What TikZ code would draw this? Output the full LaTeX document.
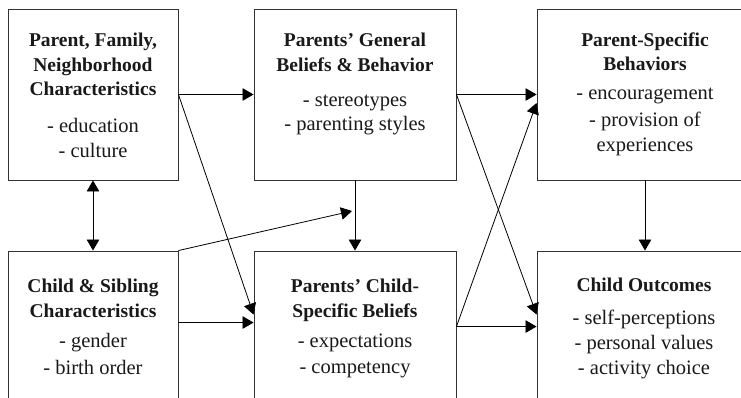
\documentclass[tikz,border=0pt]{standalone}
\usepackage{fontspec}
\setmainfont{Liberation Serif}
\usetikzlibrary{arrows.meta}

\tikzset{
  box/.style={draw=black!80, line width=0.9pt, rectangle, inner sep=0pt},
  ttl/.style={anchor=base, inner sep=0pt, font=\bfseries\fontsize{19.5}{25}\selectfont, text=black!90},
  itm/.style={anchor=base, inner sep=0pt, font=\fontsize{20.5}{25}\selectfont, text=black!90},
  arr/.style={draw=black, line width=0.8pt, -{Triangle[length=11pt,width=12.5pt]}},
  arrboth/.style={draw=black, line width=0.8pt, {Triangle[length=11pt,width=12.5pt]}-{Triangle[length=11pt,width=12.5pt]}},
}

\begin{document}
\begin{tikzpicture}[x=1pt, y=-1pt]
  \clip (0,0) rectangle (741,398);
  \fill[white] (0,0) rectangle (741,398);

  % boxes (the lower row and the right column run past the page edge)
  \node[box, minimum width=170pt, minimum height=171pt] (b1) at (93,94.5) {};
  \node[box, minimum width=202pt, minimum height=171pt] (b2) at (355,94.5) {};
  \node[box, minimum width=216pt, minimum height=171pt] (b3) at (645,94.5) {};
  \node[box, minimum width=170pt, minimum height=171pt] (b4) at (93,336.5) {};
  \node[box, minimum width=202pt, minimum height=171pt] (b5) at (355,336.5) {};
  \node[box, minimum width=216pt, minimum height=171pt] (b6) at (645,336.5) {};

  % Parent, Family, Neighborhood Characteristics
  \node[ttl] (t1a) at (93,47) {Parent, Family,};
  \node[ttl] (t1b) at (93,72) {Neighborhood};
  \node[ttl] (t1c) at (93,96) {Characteristics};
  \node[itm] (i1a) at (93,133) {- education};
  \node[itm] (i1b) at (93,158) {- culture};

  % Parents' General Beliefs & Behavior
  \node[ttl] (t2a) at (355,47) {Parents’ General};
  \node[ttl] (t2b) at (355,72) {Beliefs \& Behavior};
  \node[itm] (i2a) at (355,107) {- stereotypes};
  \node[itm] (i2b) at (355,131) {- parenting styles};

  % Parent-Specific Behaviors
  \node[ttl] (t3a) at (645,47) {Parent-Specific};
  \node[ttl] (t3b) at (645,71) {Behaviors};
  \node[itm] (i3a) at (645,100) {- encouragement};
  \node[itm] (i3b) at (645,127) {- provision of};
  \node[itm] (i3c) at (645,152) {experiences};

  % Child & Sibling Characteristics
  \node[ttl] (t4a) at (93,292) {Child \& Sibling};
  \node[ttl] (t4b) at (93,317) {Characteristics};
  \node[itm] (i4a) at (93,347) {- gender};
  \node[itm] (i4b) at (93,374) {- birth order};

  % Parents' Child-Specific Beliefs
  \node[ttl] (t5a) at (355,292) {Parents’ Child-};
  \node[ttl] (t5b) at (355,317) {Specific Beliefs};
  \node[itm] (i5a) at (355,347) {- expectations};
  \node[itm] (i5b) at (355,373) {- competency};

  % Child Outcomes
  \node[ttl] (t6a) at (644,291) {Child Outcomes};
  \node[itm] (i6a) at (644,324) {- self-perceptions};
  \node[itm] (i6b) at (644,349) {- personal values};
  \node[itm] (i6c) at (644,374) {- activity choice};

  % free end of the moderating arrow
  \coordinate (mod) at (352,211);

  % connectors
  \draw[arr] (b1.east) -- (b2.west);
  \draw[arr] (b1.east) -- ([yshift=-64pt]b5.north west);
  \draw[arrboth] (b1.south) -- (b4.north);
  \draw[arr] ([yshift=-72pt]b4.north east) -- ([yshift=-72pt]b5.north west);
  \draw[arr] (b4.north east) -- (mod);
  \draw[arr] (b2.south) -- (b5.north);
  \draw[arr] (b2.east) -- (b3.west);
  \draw[arr] (b2.east) -- ([yshift=-64pt]b6.north west);
  \draw[arr] ([yshift=-76pt]b5.north east) -- ([yshift=-76pt]b6.north west);
  \draw[arr] ([yshift=-76pt]b5.north east) -- ([yshift=-8.5pt]b3.west);
  \draw[arr] (b3.south) -- (b6.north);
\end{tikzpicture}
\end{document}
